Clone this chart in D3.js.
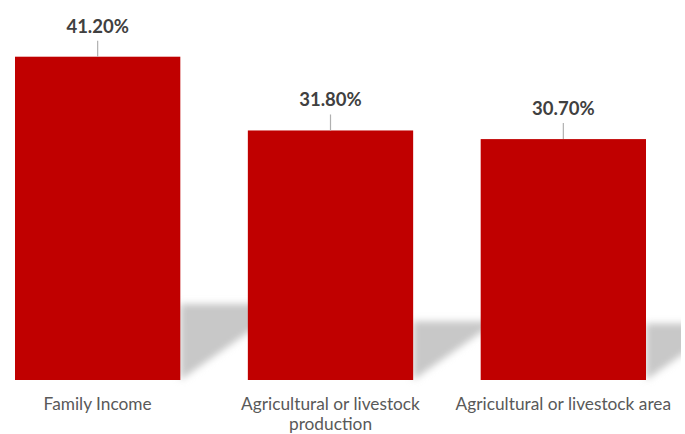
<!DOCTYPE html>
<html>
<head>
<meta charset="utf-8">
<script src="https://cdn.jsdelivr.net/npm/d3@7"></script>
<style>
  html, body { margin: 0; padding: 0; background: #ffffff; }
  svg { display: block; }
</style>
</head>
<body>
<div id="chart"></div>
<script>
// ---- data ----
const categories = ["Family Income", "Agricultural or livestock production", "Agricultural or livestock area"];
const categoryLines = [["Family Income"], ["Agricultural or livestock", "production"], ["Agricultural or livestock area"]];
const values = [41.2, 31.8, 30.7];
const valueLabels = ["41.20%", "31.80%", "30.70%"];

const W = 685, H = 434;
const baseY = 380;

const svg = d3.select("#chart").append("svg")
  .attr("width", W).attr("height", H);

const x = d3.scaleBand().domain(categories).range([15, 646]).paddingInner(0.29).paddingOuter(0);
const y = d3.scaleLinear().domain([0, 45]).range([baseY, baseY - 45 * 7.847]);

const defs = svg.append("defs");
const blur = defs.append("filter").attr("id", "blur")
  .attr("x", "-20%").attr("y", "-20%").attr("width", "140%").attr("height", "140%");
blur.append("feGaussianBlur").attr("stdDeviation", 3.5);
defs.append("clipPath").attr("id", "clipR")
  .append("rect").attr("x", 0).attr("y", 0).attr("width", 681).attr("height", H);

// shadows
const shadowG = svg.append("g").attr("clip-path", "url(#clipR)");
shadowG.selectAll("polygon")
  .data(categories.map((c, i) => ({ c, v: values[i] })))
  .join("polygon")
  .attr("points", d => {
    const R = x(d.c) + x.bandwidth();
    const h = baseY - y(d.v);
    const top = baseY - 0.235 * h;
    const w = 80;
    const slope = 0.7;
    return [[R, baseY], [R, top], [R + w, top], [R + w, baseY - slope * w]].map(p => p.join(",")).join(" ");
  })
  .attr("fill", "#c8c8c8")
  .attr("filter", "url(#blur)");

// bars
svg.append("g").selectAll("rect")
  .data(categories.map((c, i) => ({ c, v: values[i] })))
  .join("rect")
  .attr("x", d => x(d.c))
  .attr("y", d => y(d.v))
  .attr("width", x.bandwidth())
  .attr("height", d => baseY - y(d.v))
  .attr("fill", "#c00000");

// leader lines
svg.append("g").selectAll("line")
  .data(categories.map((c, i) => ({ c, v: values[i] })))
  .join("line")
  .attr("x1", d => x(d.c) + x.bandwidth() / 2)
  .attr("x2", d => x(d.c) + x.bandwidth() / 2)
  .attr("y1", d => y(d.v) - 16)
  .attr("y2", d => y(d.v))
  .attr("stroke", "#b0b0b0")
  .attr("stroke-width", 1.2);

// value labels
svg.append("g").selectAll("text")
  .data(categories.map((c, i) => ({ c, v: values[i], t: valueLabels[i] })))
  .join("text")
  .attr("x", d => x(d.c) + x.bandwidth() / 2)
  .attr("y", d => y(d.v) - 24)
  .attr("text-anchor", "middle")
  .attr("font-family", "Lato, 'Open Sans', sans-serif")
  .attr("font-weight", "bold")
  .attr("font-size", 18.5)
  .attr("fill", "#404040")
  .text(d => d.t);

// category labels
const catG = svg.append("g");
categories.forEach((c, i) => {
  const t = catG.append("text")
    .attr("x", x(c) + x.bandwidth() / 2)
    .attr("y", 410)
    .attr("text-anchor", "middle")
    .attr("font-family", "Lato, 'Open Sans', sans-serif")
    .attr("font-size", 17.3)
    .attr("fill", "#595959");
  categoryLines[i].forEach((line, j) => {
    t.append("tspan")
      .attr("x", x(c) + x.bandwidth() / 2)
      .attr("dy", j === 0 ? 0 : 20)
      .text(line);
  });
});
</script>
</body>
</html>
